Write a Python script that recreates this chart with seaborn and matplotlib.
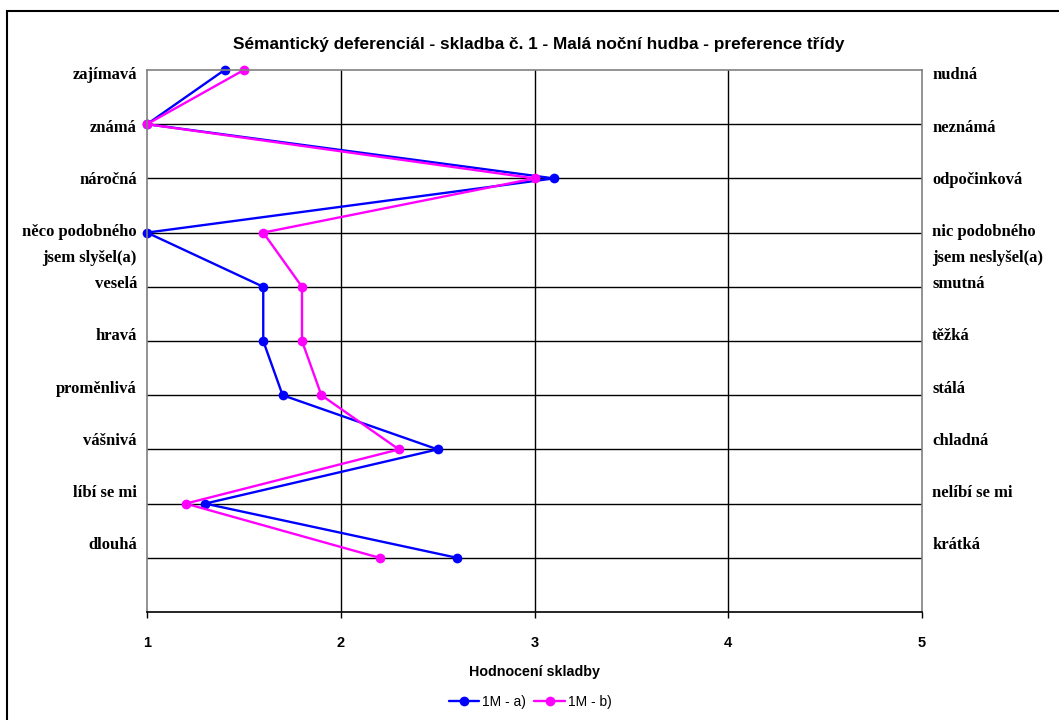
import seaborn as sns
import pandas as pd
import matplotlib.pyplot as plt
from matplotlib.patches import Rectangle

# data
left_labels = ['zajímavá', 'známá', 'náročná', 'něco podobného\njsem slyšel(a)', 'veselá',
               'hravá', 'proměnlivá', 'vášnivá', 'líbí se mi', 'dlouhá']
right_labels = ['nudná', 'neznámá', 'odpočinková', 'nic podobného\njsem neslyšel(a)', 'smutná',
                'těžká', 'stálá', 'chladná', 'nelíbí se mi', 'krátká']
series_a = [1.4, 1.0, 3.1, 1.0, 1.6, 1.6, 1.7, 2.5, 1.3, 2.6]
series_b = [1.5, 1.0, 3.0, 1.6, 1.8, 1.8, 1.9, 2.3, 1.2, 2.2]
series_names = ['1M - a)', '1M - b)']
x_ticks = [1, 2, 3, 4, 5]

rows = list(range(len(left_labels)))
df = pd.DataFrame({
    'row': rows + rows,
    'value': series_a + series_b,
    'serie': [series_names[0]] * len(rows) + [series_names[1]] * len(rows),
})

sns.set_style('white')
plt.rcParams['font.family'] = ['Liberation Sans', 'DejaVu Sans']
plt.rcParams['text.color'] = 'black'
plt.rcParams['axes.labelcolor'] = 'black'
plt.rcParams['xtick.color'] = 'black'

fig = plt.figure(figsize=(10.59, 7.2), dpi=100)
ax = fig.add_axes([147 / 1059, 1 - 612 / 720, 775 / 1059, 542 / 720])

sns.lineplot(data=df, x='value', y='row', hue='serie', orient='y', sort=False,
             palette=['#0000ff', '#ff00ff'], marker='o', markersize=7,
             markeredgewidth=0, linewidth=1.7, ax=ax, legend=True)
for line in ax.lines:
    line.set_clip_on(False)

ax.set_xlim(1, 5)
ax.set_ylim(len(rows), 0)
ax.set_xticks(x_ticks)
ax.set_xticklabels([str(t) for t in x_ticks], fontsize=10.5, fontweight='bold')
ax.set_yticks([])
ax.set_ylabel('')
ax.tick_params(axis='x', direction='out', length=4, width=1, color='black', pad=13, bottom=True)

for y in range(1, len(rows)):
    ax.axhline(y, color='black', lw=1, zorder=0)
for x in x_ticks[1:-1]:
    ax.axvline(x, color='black', lw=1, zorder=0)
for s in ['left', 'right', 'top']:
    ax.spines[s].set_color('#808080')
    ax.spines[s].set_linewidth(1.2)
ax.spines['bottom'].set_color('black')
ax.spines['bottom'].set_linewidth(1.2)

ax.set_xlabel('Hodnocení skladby', fontsize=10.3, fontweight='bold', labelpad=11)

# side labels, two text lines per row
serif = ['Liberation Serif', 'DejaVu Serif']
line_step = 0.4815
for i in rows:
    for j, part in enumerate(left_labels[i].split('\n')):
        ax.text(-0.013, 0.10 + line_step * (2 * i + j), part, transform=ax.get_yaxis_transform(),
                ha='right', va='center', fontsize=12, fontweight='bold', family=serif)
    for j, part in enumerate(right_labels[i].split('\n')):
        ax.text(1.013, 0.10 + line_step * (2 * i + j), part, transform=ax.get_yaxis_transform(),
                ha='left', va='center', fontsize=12, fontweight='bold', family=serif)

fig.text(539 / 1059, 1 - 44 / 720,
         'Sémantický deferenciál - skladba č. 1 - Malá noční hudba - preference třídy',
         ha='center', va='center', fontsize=12.4, fontweight='bold')

handles, labels = ax.get_legend_handles_labels()
ax.get_legend().remove()
fig.legend(handles, labels, loc='center', bbox_to_anchor=(530 / 1059, 1 - 702 / 720),
           ncol=2, frameon=False, fontsize=10, handlelength=2.2, handletextpad=0.2,
           columnspacing=0.6)

fig.add_artist(Rectangle((6.5 / 1059, -0.1), 1.2, 1.1 - 10.5 / 720, transform=fig.transFigure,
                         fill=False, ec='black', lw=1.5))

fig.savefig('out.png', dpi=100)
